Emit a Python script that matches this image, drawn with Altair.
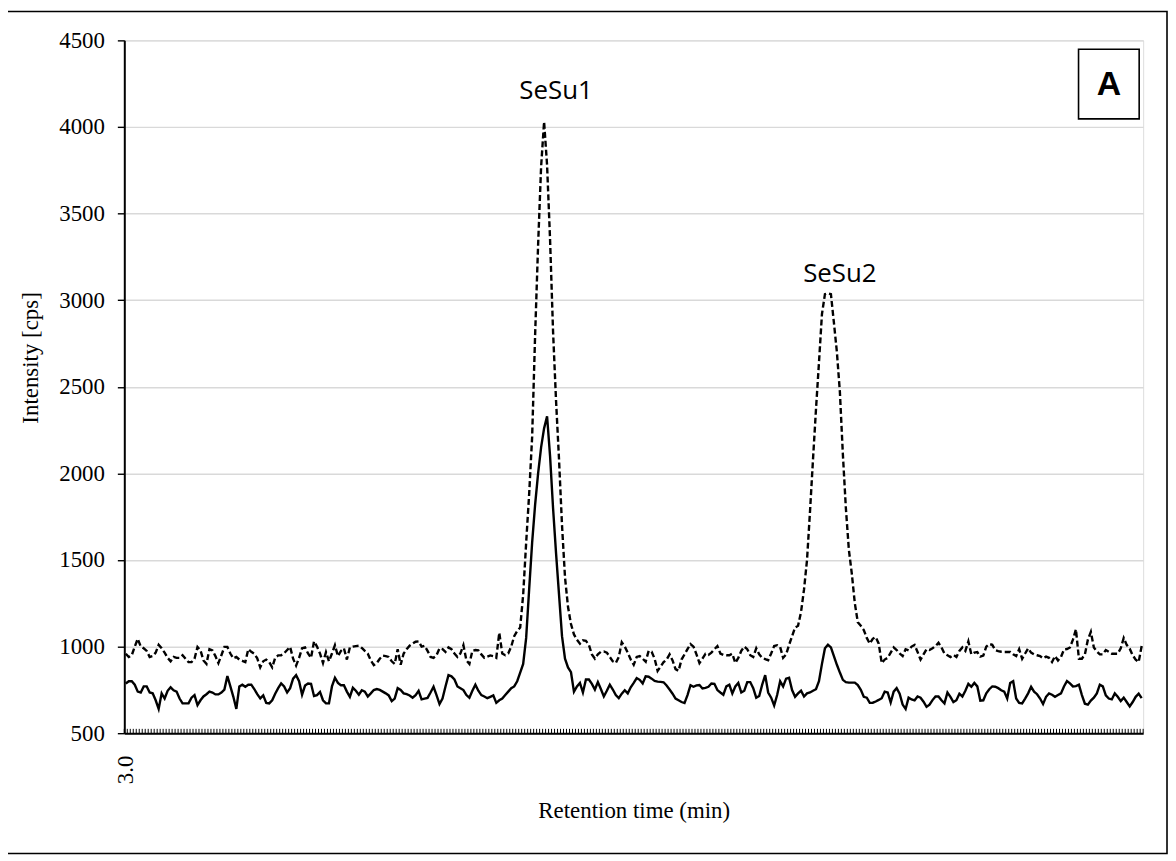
import altair as alt
import pandas as pd

# Dashed trace (upper) – intensity in cps, one value per acquisition point
dashed = [
    959, 940, 950, 1000, 1045, 1000, 990, 975, 940, 945,
    965, 1010, 990, 965, 935, 915, 940, 935, 935, 950,
    930, 910, 910, 930, 998, 978, 920, 900, 985, 978,
    945, 905, 950, 998, 998, 960, 932, 940, 925, 918,
    911, 985, 970, 958, 932, 880, 915, 925, 911, 880,
    935, 949, 950, 962, 980, 998, 930, 890, 935, 990,
    995, 960, 935, 1030, 1000, 960, 905, 968, 915, 960,
    1008, 945, 975, 990, 925, 995, 1000, 1003, 1005, 992,
    975, 959, 920, 893, 905, 930, 948, 945, 940, 915,
    900, 985, 895, 960, 985, 1005, 1017, 1028, 1030, 1000,
    1005, 975, 940, 935, 950, 990, 985, 969, 995, 985,
    960, 940, 960, 1008, 920, 900, 975, 980, 978, 955,
    935, 942, 949, 945, 935, 1080, 960, 950, 960, 1000,
    1060, 1090, 1110, 1300, 1600, 1880, 2210, 2800, 3320, 3770,
    4030, 3780, 3350, 2820, 2420, 2080, 1700, 1400, 1230, 1130,
    1070, 1040, 1017, 1036, 1033, 1010, 955, 930, 955, 970,
    972, 965, 940, 915, 905, 940, 1025, 1000, 965, 925,
    895, 940, 945, 930, 913, 975, 970, 930, 860, 885,
    910, 925, 955, 920, 870, 860, 925, 955, 985, 1015,
    1000, 955, 905, 930, 958, 952, 965, 985, 1003, 960,
    952, 950, 950, 959, 905, 935, 975, 1000, 985, 950,
    940, 990, 955, 935, 928, 921, 960, 1003, 1008, 998,
    935, 955, 1010, 1060, 1110, 1120, 1200, 1330, 1500, 1780,
    2080, 2370, 2640, 2920, 3035, 3040, 3035, 2870, 2700, 2470,
    2110, 1800, 1560, 1420, 1250, 1140, 1120, 1095, 1050, 1017,
    1045, 1055, 1017, 905, 925, 935, 965, 995, 980, 960,
    945, 985, 978, 1000, 1010, 969, 925, 955, 985, 980,
    990, 1003, 1022, 995, 960, 950, 940, 952, 940, 975,
    995, 975, 1030, 955, 965, 968, 942, 948, 1000, 1015,
    1010, 980, 974, 970, 969, 969, 969, 955, 945, 985,
    930, 960, 990, 965, 955, 950, 945, 932, 942, 935,
    911, 945, 920, 940, 983, 986, 995, 1040, 1100, 930,
    930, 955, 1040, 1085, 995, 972, 955, 955, 980, 970,
    959, 959, 959, 990, 1050, 1010, 988, 950, 925, 911, 1003,
]

# Solid trace (lower)
solid = [
    787, 800, 800, 780, 740, 735, 770, 770, 735, 730,
    690, 640, 730, 700, 745, 765, 748, 740, 700, 672,
    672, 672, 705, 720, 662, 690, 712, 725, 740, 735,
    724, 724, 735, 752, 830, 770, 710, 640, 770, 780,
    768, 780, 780, 755, 725, 701, 718, 675, 672, 690,
    728, 760, 787, 770, 735, 760, 815, 835, 800, 722,
    775, 787, 785, 715, 720, 738, 690, 672, 672, 770,
    820, 790, 777, 777, 740, 710, 762, 745, 722, 748,
    740, 712, 730, 749, 755, 750, 740, 730, 718, 685,
    700, 760, 750, 730, 725, 718, 705, 720, 745, 695,
    700, 704, 735, 768, 720, 668, 700, 770, 835, 828,
    810, 770, 760, 749, 720, 705, 745, 780, 745, 720,
    712, 702, 710, 718, 675, 690, 700, 720, 740, 760,
    770, 800, 850, 900, 1050, 1330, 1600, 1820, 2000, 2150,
    2260, 2330, 2100, 1800, 1540, 1300, 1060, 930, 880, 852,
    740, 770, 790, 735, 810, 810, 785, 752, 795, 755,
    712, 745, 780, 752, 720, 702, 728, 748, 730, 765,
    790, 818, 808, 787, 828, 826, 815, 802, 798, 796,
    794, 775, 752, 728, 700, 690, 680, 674, 720, 777,
    768, 776, 778, 758, 762, 768, 787, 785, 749, 735,
    722, 770, 780, 730, 770, 790, 735, 745, 795, 795,
    760, 705, 715, 780, 835, 735, 705, 660, 720, 800,
    770, 815, 820, 749, 710, 730, 745, 712, 730, 735,
    745, 754, 800, 900, 990, 1011, 995, 945, 895, 850,
    808, 795, 792, 792, 792, 778, 750, 710, 705, 675,
    676, 683, 692, 702, 740, 735, 677, 740, 760, 728,
    665, 640, 705, 695, 690, 712, 705, 682, 652, 665,
    691, 712, 712, 690, 672, 735, 710, 680, 690, 728,
    712, 745, 785, 768, 790, 770, 688, 690, 730, 754,
    770, 768, 760, 748, 740, 700, 790, 800, 700, 675,
    672, 700, 730, 768, 740, 725, 700, 668, 710, 730,
    722, 710, 720, 730, 770, 801, 788, 770, 772, 780,
    720, 670, 665, 688, 705, 730, 780, 770, 718, 700,
    695, 730, 710, 685, 705, 680, 655, 680, 710, 728, 702,
]

y_ticks = [500, 1000, 1500, 2000, 2500, 3000, 3500, 4000, 4500]
x_first_label = "3.0"
peak_labels = ["SeSu1", "SeSu2"]
peak_label_idx = [144, 239]
peak_label_val = [4160, 3105]
panel_letter = "A"

assert len(dashed) == len(solid)
N = len(dashed)

df = pd.DataFrame({"i": list(range(N)), "dashed": dashed, "solid": solid})
tick_df = pd.DataFrame({"b": [k - 0.5 for k in range(N + 1)]})
lab_df = pd.DataFrame({"t": peak_labels, "x": peak_label_idx, "y": peak_label_val})
one = pd.DataFrame({"k": [0]})

SERIF = "Liberation Serif"
xscale = alt.Scale(domain=[-0.5, N - 0.5], nice=False, zero=False)
yscale = alt.Scale(domain=[500, 4500], nice=False, zero=False)

xaxis = alt.Axis(
    values=[0], labelExpr=f"'{x_first_label}'", ticks=False, grid=False,
    labelAngle=270, labelAlign="right", labelBaseline="middle", labelPadding=22,
    labelFont=SERIF, labelFontSize=23, labelColor="black",
    domainColor="black", domainWidth=2,
    title="Retention time (min)", titleFont=SERIF, titleFontSize=23,
    titleFontWeight="normal", titleColor="black", titlePadding=16,
)
yaxis = alt.Axis(
    values=y_ticks, format="d", grid=True, gridColor="#d9d9d9", gridWidth=1.4,
    tickColor="black", tickSize=7, tickWidth=1.4, domainColor="black", domainWidth=2,
    labelFont=SERIF, labelFontSize=23, labelColor="black", labelPadding=13,
    title="Intensity [cps]", titleFont=SERIF, titleFontSize=23,
    titleFontWeight="normal", titleColor="black", titlePadding=16, titleY=319,
)

def X(f):
    return alt.X(f, type="quantitative", scale=xscale, axis=xaxis)

def Y(f):
    return alt.Y(f, type="quantitative", scale=yscale, axis=yaxis)

frame = alt.Chart(one).mark_rect(fillOpacity=0, stroke="black", strokeWidth=1.6).encode(
    x=alt.value(-118), x2=alt.value(1049), y=alt.value(-29), y2=alt.value(818)
)

ticks = alt.Chart(tick_df).mark_rule(color="black", strokeWidth=1).encode(
    x=X("b"), y=alt.YDatum(500, scale=yscale, axis=yaxis), y2=alt.Y2Datum(525)
)

solid_line = alt.Chart(df).mark_line(color="black", strokeWidth=2.4).encode(
    x=X("i"), y=Y("solid")
)
dashed_line = alt.Chart(df).mark_line(color="black", strokeWidth=2.4, strokeDash=[6, 3]).encode(
    x=X("i"), y=Y("dashed")
)

labels = alt.Chart(lab_df).mark_text(
    font="Open Sans", fontSize=26, color="black", align="center", baseline="alphabetic"
).encode(x=X("x"), y=Y("y"), text="t:N")

box = alt.Chart(one).mark_rect(fill="white", stroke="black", strokeWidth=1.6).encode(
    x=alt.value(960), x2=alt.value(1021), y=alt.value(9), y2=alt.value(79)
)
letter = alt.Chart(one).mark_text(
    font="Liberation Sans", fontSize=34, fontWeight="bold", color="black",
    align="center", baseline="middle"
).encode(x=alt.value(990.5), y=alt.value(45), text=alt.value(panel_letter))

chart = alt.layer(frame, ticks, dashed_line, solid_line, labels, box, letter).properties(
    width=1025, height=697,
    autosize=alt.AutoSizeParams(type="none"),
    padding={"left": 117, "top": 30, "right": 25, "bottom": 122},
).configure_view(stroke=None).configure(background="white")

chart.save("out.html", embed_options={"renderer": "svg", "actions": False})
